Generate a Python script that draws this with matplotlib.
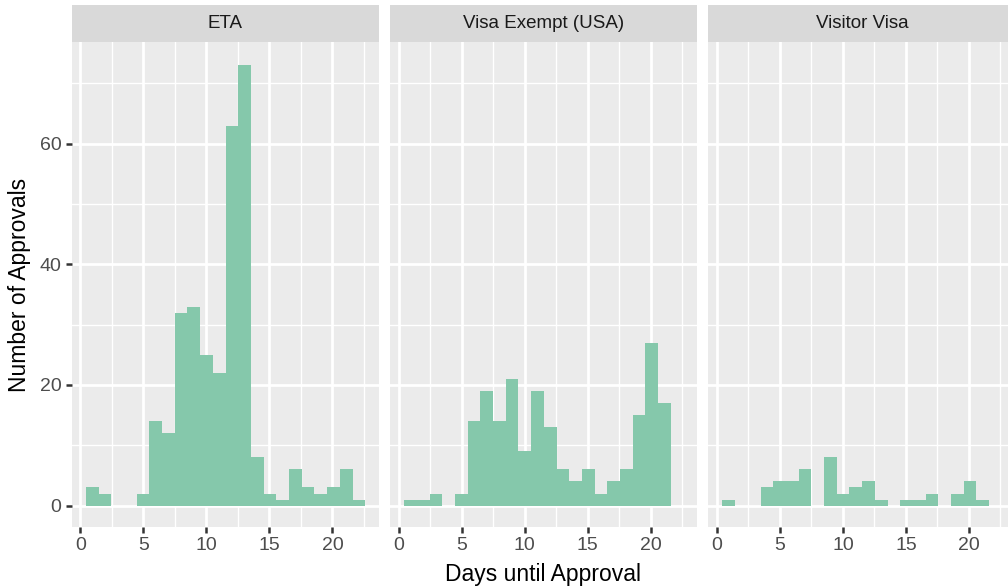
import numpy as np
import matplotlib
matplotlib.use('Agg')
import matplotlib.pyplot as plt
from matplotlib.ticker import MultipleLocator

panels = ['ETA', 'Visa Exempt (USA)', 'Visitor Visa']
eta = [3, 2, 0, 0, 2, 14, 12, 32, 33, 25, 22, 63, 73, 8, 2, 1, 6, 3, 2, 3, 6, 1]
visa_exempt = [1, 1, 2, 0, 2, 14, 19, 14, 21, 9, 19, 13, 6, 4, 6, 2, 4, 6, 15, 27, 17, 0]
visitor_visa = [1, 0, 0, 3, 4, 4, 6, 0, 8, 2, 3, 4, 1, 0, 1, 1, 2, 0, 2, 4, 1, 0]
x_ticks = [0, 5, 10, 15, 20]
y_ticks = [0, 20, 40, 60]

# bins del histograma
bin_start = 0.43
bin_width = 1.008

plt.rcParams['font.family'] = ['Liberation Sans', 'DejaVu Sans']

W, H = 1008, 588
fig = plt.figure(figsize=(W / 100, H / 100), dpi=100)
fig.patch.set_facecolor('white')

# posiciones de los paneles en pixeles
lefts = [71.7, 390.0, 708.3]
pw = 307.3
top, bottom = 42.3, 526.7
strip_top = 5.0

series = [eta, visa_exempt, visitor_visa]
for i, (name, counts) in enumerate(zip(panels, series)):
    ax = fig.add_axes([lefts[i] / W, 1 - bottom / H, pw / W, (bottom - top) / H])
    ax.set_facecolor('#EBEBEB')
    edges = bin_start + np.arange(len(counts)) * bin_width
    ax.bar(edges, counts, width=bin_width, align='edge', color='#85C8AB',
           edgecolor='none', zorder=3)
    ax.set_xlim(-0.69, 23.7)
    ax.set_ylim(-3.5, 76.8)
    ax.set_xticks(x_ticks)
    ax.xaxis.set_minor_locator(MultipleLocator(2.5))
    ax.yaxis.set_minor_locator(MultipleLocator(10))
    ax.set_yticks(y_ticks)
    ax.grid(which='major', color='white', lw=2.0, zorder=1)
    ax.grid(which='minor', color='white', lw=1.0, zorder=1)
    ax.set_axisbelow(True)
    for s in ax.spines.values():
        s.set_visible(False)
    ax.tick_params(axis='both', which='major', length=4.5, width=1.8,
                   color='#333333', labelcolor='#4D4D4D', labelsize=14, pad=3)
    ax.tick_params(which='minor', length=0)
    if i > 0:
        ax.tick_params(axis='y', which='both', left=False, labelleft=False)

    # franja del facet
    sax = fig.add_axes([lefts[i] / W, 1 - top / H, pw / W, (top - strip_top) / H])
    sax.set_facecolor('#D9D9D9')
    sax.set_xticks([])
    sax.set_yticks([])
    for s in sax.spines.values():
        s.set_visible(False)
    sax.text(0.5, 0.5, name, ha='center', va='center', fontsize=13.5,
             color='#1A1A1A', transform=sax.transAxes)

fig.text(20 / W, 1 - 284.5 / H, 'Number of Approvals', rotation=90,
         ha='center', va='center', fontsize=16.5, color='black')
fig.text(543 / W, 1 - 581 / H, 'Days until Approval', ha='center',
         va='baseline', fontsize=16.5, color='black')

fig.savefig('out.png', dpi=100)
